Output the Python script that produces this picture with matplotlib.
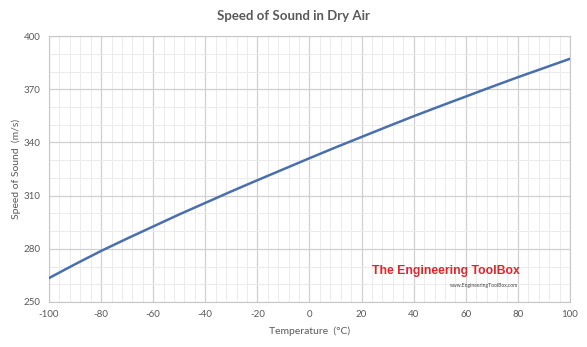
import numpy as np
import matplotlib.pyplot as plt
from matplotlib.ticker import MultipleLocator

plt.rcParams['font.family'] = ['Lato', 'DejaVu Sans']
plt.rcParams['axes.unicode_minus'] = False

# temperature (C) and speed of sound (m/s)
temperature = [-100, -90, -80, -70, -60, -50, -40, -30, -20, -10, 0,
               10, 20, 30, 40, 50, 60, 70, 80, 90, 100]
speed = [263.5, 271.3, 278.8, 285.8, 292.6, 299.4, 305.9, 312.4, 318.7, 324.9, 331.1,
         337.2, 343.1, 349.0, 354.8, 360.4, 365.9, 371.4, 376.8, 382.0, 387.2]
yticks = [250, 280, 310, 340, 370, 400]

grey = '#595959'

fig = plt.figure(figsize=(5.87, 3.47), dpi=100)
ax = fig.add_axes([0.0835, 0.1297, 0.8875, 0.7663])

ax.plot(temperature, speed, color='#4a6fad', lw=1.8, zorder=3)

ax.set_xlim(-100, 100)
ax.set_ylim(250, 400)
ax.xaxis.set_major_locator(MultipleLocator(20))
ax.xaxis.set_minor_locator(MultipleLocator(4))
ax.set_yticks(yticks)
ax.yaxis.set_minor_locator(MultipleLocator(10))
ax.grid(which='major', color='#d0d0d0', lw=0.9)
ax.grid(which='minor', color='#ebebeb', lw=0.7)
ax.set_axisbelow(True)
for s in ax.spines.values():
    s.set_color('#c8c8c8')
    s.set_linewidth(0.8)
ax.tick_params(which='both', length=0, labelsize=7, labelcolor=grey, pad=6)

ax.set_xlabel('Temperature  (\u00b0C)', fontsize=7.5, color=grey, labelpad=5)
ax.set_ylabel('Speed of Sound  (m/s)', fontsize=7.5, color=grey, labelpad=2)
fig.text(0.5, 0.955, 'Speed of Sound in Dry Air', ha='center', va='center',
         fontsize=9.5, fontweight='bold', color=grey)

# watermark
ax.text(0.62, 0.117, 'The Engineering ToolBox', transform=ax.transAxes,
        fontsize=8.8, fontweight='bold', color='#e8202a', family='Liberation Sans',
        ha='left', va='center', zorder=4)
ax.text(0.77, 0.062, 'www.EngineeringToolBox.com', transform=ax.transAxes,
        fontsize=3.6, color='#444444', ha='left', va='center', zorder=4)

fig.savefig('out.png', dpi=100)
